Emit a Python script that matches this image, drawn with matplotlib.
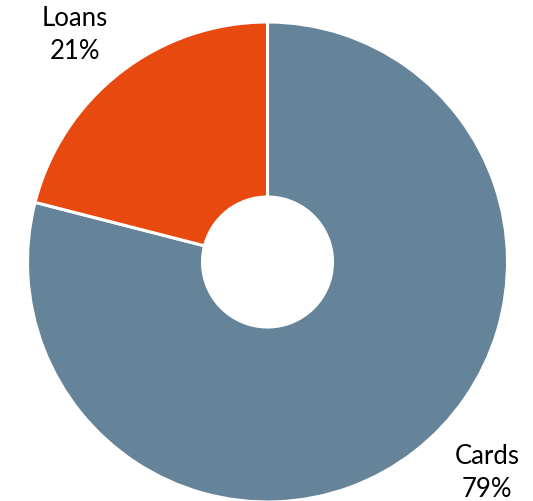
import matplotlib
matplotlib.use("Agg")
import matplotlib.pyplot as plt

# Portfolio split
categories = ["Cards", "Loans"]
shares = [79, 21]
colors = ["#658499", "#E8490F"]

W, H = 533, 501
fig = plt.figure(figsize=(W / 100, H / 100), dpi=100)
ax = fig.add_axes([0, 0, 1, 1])
ax.set_xlim(0, W)
ax.set_ylim(0, H)
ax.set_aspect("equal")
ax.axis("off")

cx, cy = 267.5, H - 262
outer_r, inner_r = 240, 65

ax.pie(shares, colors=colors, startangle=90, counterclock=False,
       center=(cx, cy), radius=outer_r, frame=True,
       wedgeprops=dict(width=outer_r - inner_r, edgecolor="white", linewidth=2.2))
ax.set_xlim(0, W)
ax.set_ylim(0, H)
ax.axis("off")

font = dict(family=["Lato", "DejaVu Sans"], fontsize=18.5, color="#000000",
            ha="center", va="baseline")
# label anchors: (x, first-line baseline) in pixel space, top-down
label_pos = {"Loans": (75, 26), "Cards": (487, 464)}
for name, val in zip(categories, shares):
    x, yb = label_pos[name]
    ax.text(x, H - yb, name, **font)
    ax.text(x, H - yb - 33, f"{val}%", **font)

fig.savefig("out.png", dpi=100, facecolor="white")
